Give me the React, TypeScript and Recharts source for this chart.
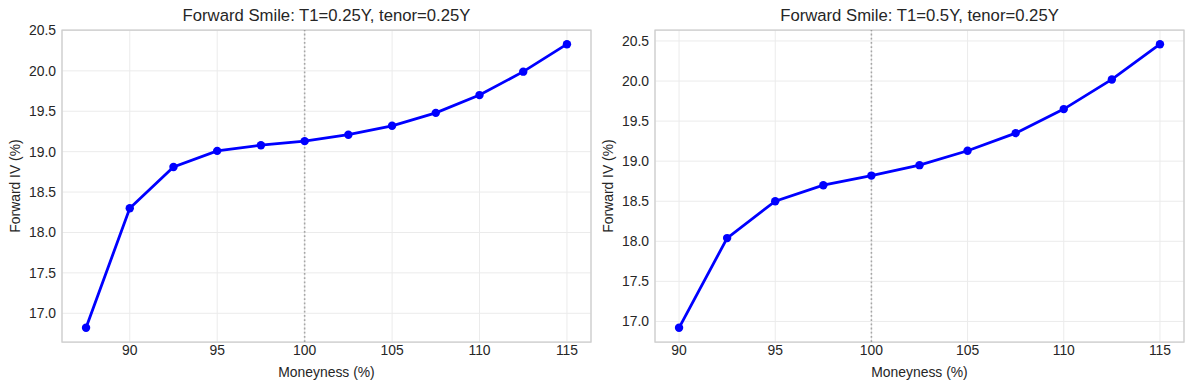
import React from 'react';
import {
  LineChart,
  Line,
  XAxis,
  YAxis,
  CartesianGrid,
  ReferenceLine,
  ReferenceArea,
  Label,
} from 'recharts';

// T1 = 0.25Y
const moneynessShort = [87.5, 90, 92.5, 95, 97.5, 100, 102.5, 105, 107.5, 110, 112.5, 115];
const ivShort = [16.82, 18.3, 18.81, 19.01, 19.08, 19.13, 19.21, 19.32, 19.48, 19.7, 19.99, 20.33];

// T1 = 0.5Y
const moneynessLong = [90, 92.5, 95, 97.5, 100, 102.5, 105, 107.5, 110, 112.5, 115];
const ivLong = [16.92, 18.04, 18.5, 18.7, 18.82, 18.95, 19.13, 19.35, 19.65, 20.02, 20.46];

const xTicks = [90, 95, 100, 105, 110, 115];
const yTicks = [17, 17.5, 18, 18.5, 19, 19.5, 20, 20.5];

const FONT = '"Liberation Sans", Arial, sans-serif';
const TEXT = '#262626';
const PLOT_TOP = 30;
const PLOT_BOTTOM = 342;
const HEIGHT = 390;

// matplotlib-style 5% margins around the data
function padded(values: number[]): [number, number] {
  const lo = Math.min(...values);
  const hi = Math.max(...values);
  const m = (hi - lo) * 0.05;
  return [lo - m, hi + m];
}

function XTitle({ viewBox }: any) {
  const cx = viewBox.x + viewBox.width / 2;
  return (
    <text x={cx} y={372} textAnchor="middle" dominantBaseline="central" fill={TEXT} fontSize={13.9} fontFamily={FONT}>
      Moneyness (%)
    </text>
  );
}

function YTitle({ viewBox }: any) {
  const cx = viewBox.x + viewBox.width - 47;
  const cy = viewBox.y + viewBox.height / 2;
  return (
    <text
      x={cx}
      y={cy}
      transform={`rotate(-90 ${cx} ${cy})`}
      textAnchor="middle"
      dominantBaseline="central"
      fill={TEXT}
      fontSize={13.9}
      fontFamily={FONT}
    >
      Forward IV (%)
    </text>
  );
}

interface PanelProps {
  title: string;
  xs: number[];
  ys: number[];
  left: number;
  width: number;
  axisWidth: number;
  rightGap: number;
}

function SmilePanel({ title, xs, ys, left, width, axisWidth, rightGap }: PanelProps) {
  const data = xs.map((x, i) => ({ x, iv: ys[i] }));
  const xDomain = padded(xs);
  const yDomain = padded(ys);
  const plotLeft = axisWidth;
  const plotWidth = width - axisWidth - rightGap;

  return (
    <div style={{ position: 'absolute', left, top: 0, width, height: HEIGHT }}>
      <div
        style={{
          position: 'absolute',
          left: plotLeft,
          width: plotWidth,
          top: 6,
          lineHeight: '20px',
          textAlign: 'center',
          fontFamily: FONT,
          fontSize: 16.7,
          color: TEXT,
          whiteSpace: 'nowrap',
        }}
      >
        {title}
      </div>
      <LineChart
        width={width}
        height={HEIGHT}
        data={data}
        margin={{ top: PLOT_TOP, right: rightGap, bottom: 18, left: 0 }}
      >
        <CartesianGrid stroke="#ebebeb" strokeWidth={1} />
        <XAxis
          dataKey="x"
          type="number"
          domain={xDomain}
          ticks={xTicks}
          allowDataOverflow
          height={HEIGHT - PLOT_BOTTOM - 18}
          tickLine={false}
          tickSize={0}
          tickMargin={3}
          axisLine={false}
          tick={{ fill: TEXT, fontSize: 13.9, fontFamily: FONT }}
        >
          <Label content={<XTitle />} />
        </XAxis>
        <YAxis
          type="number"
          domain={yDomain}
          ticks={yTicks}
          allowDataOverflow
          width={axisWidth}
          tickLine={false}
          tickSize={0}
          tickMargin={6}
          axisLine={false}
          tickFormatter={(v: number) => v.toFixed(1)}
          tick={{ fill: TEXT, fontSize: 13.9, fontFamily: FONT }}
        >
          <Label content={<YTitle />} />
        </YAxis>
        <ReferenceLine
          x={100}
          stroke="#808080"
          strokeOpacity={0.65}
          strokeWidth={1.6}
          strokeDasharray="1.8 2.4"
        />
        <Line
          dataKey="iv"
          stroke="#0000ff"
          strokeWidth={2.8}
          dot={{ r: 4.2, fill: '#0000ff', stroke: '#0000ff', strokeWidth: 0 }}
          activeDot={false}
          isAnimationActive={false}
        />
        <ReferenceArea
          x1={xDomain[0]}
          x2={xDomain[1]}
          y1={yDomain[0]}
          y2={yDomain[1]}
          fill="none"
          stroke="#cccccc"
          strokeWidth={1.25}
        />
      </LineChart>
    </div>
  );
}

export default function App() {
  return (
    <div style={{ position: 'fixed', left: 0, top: 0, width: 1189, height: HEIGHT, background: '#fff' }}>
      <SmilePanel
        title="Forward Smile: T1=0.25Y, tenor=0.25Y"
        xs={moneynessShort}
        ys={ivShort}
        left={0}
        width={597}
        axisWidth={62}
        rightGap={6}
      />
      <SmilePanel
        title="Forward Smile: T1=0.5Y, tenor=0.25Y"
        xs={moneynessLong}
        ys={ivLong}
        left={597}
        width={592}
        axisWidth={58}
        rightGap={5}
      />
    </div>
  );
}
